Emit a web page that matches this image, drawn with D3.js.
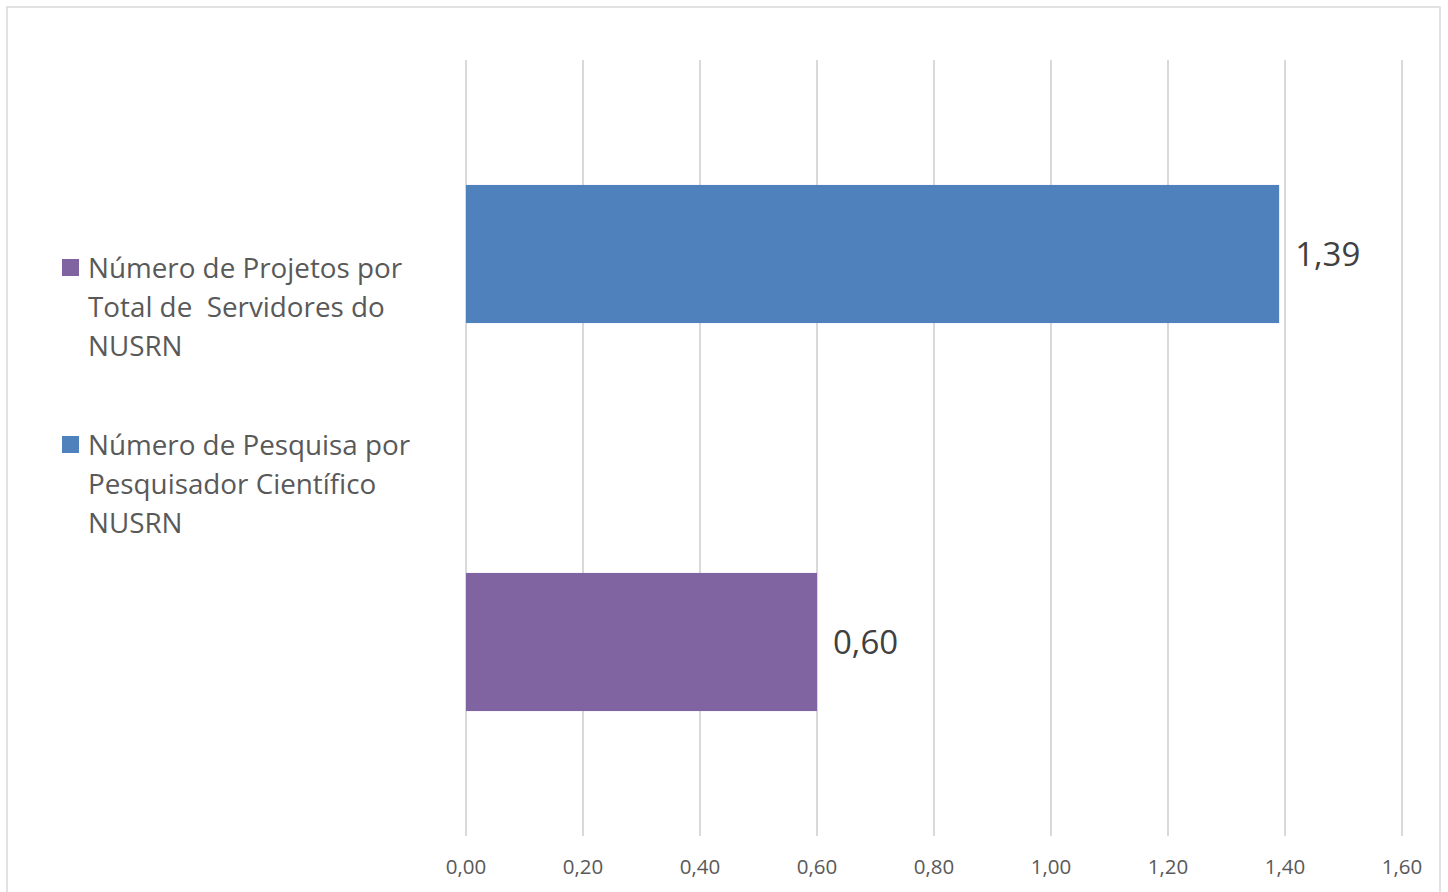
<!DOCTYPE html>
<html>
<head>
<meta charset="utf-8">
<script src="https://cdn.jsdelivr.net/npm/d3@7"></script>
<style>
  html, body { margin: 0; padding: 0; background: #fff; }
  svg { display: block; }
  text { font-family: "Open Sans", "Noto Sans", sans-serif; }
</style>
</head>
<body>
<svg id="chart" width="1448" height="892"></svg>
<script>
const categories = ["Número de Projetos por Total de  Servidores do NUSRN", "Número de Pesquisa por Pesquisador Científico NUSRN"];
const barOrder = ["Número de Pesquisa por Pesquisador Científico NUSRN", "Número de Projetos por Total de  Servidores do NUSRN"];
const values = [1.39, 0.60];
const tickValues = [0, 0.2, 0.4, 0.6, 0.8, 1.0, 1.2, 1.4, 1.6];
const legendLines = [
  ["Número de Projetos por", "Total de  Servidores do", "NUSRN"],
  ["Número de Pesquisa por", "Pesquisador Científico", "NUSRN"]
];
const colors = {"Número de Projetos por Total de  Servidores do NUSRN": "#8064a2", "Número de Pesquisa por Pesquisador Científico NUSRN": "#4f81bd"};

const svg = d3.select("#chart");

// outer border
svg.append("rect").attr("x", 7).attr("y", 7).attr("width", 1433).attr("height", 900)
  .attr("fill", "#fff").attr("stroke", "#d9d9d9").attr("stroke-width", 1.5);

const x = d3.scaleLinear().domain([0, 1.6]).range([466, 1402]);
const y = d3.scaleBand().domain(barOrder).range([60, 836]).paddingInner(0.644).paddingOuter(0.322);

// gridlines
svg.append("g").selectAll("line").data(tickValues).join("line")
  .attr("x1", d => x(d)).attr("x2", d => x(d))
  .attr("y1", 60).attr("y2", 836)
  .attr("stroke", "#d9d9d9").attr("stroke-width", 2);

// axis labels
const fmt = d => d3.format(".2f")(d).replace(".", ",");
svg.append("g").selectAll("text").data(tickValues).join("text")
  .attr("x", d => x(d)).attr("y", 874)
  .attr("text-anchor", "middle")
  .attr("font-size", 20.5)
  .attr("fill", "#595959")
  .text(fmt);

// data labels
svg.append("g").selectAll("rect").data(barOrder).join("rect")
  .attr("x", x(0))
  .attr("y", d => y(d))
  .attr("width", (d, i) => x(values[i]) - x(0))
  .attr("height", y.bandwidth())
  .attr("fill", d => colors[d]);

svg.append("g").selectAll("text").data(barOrder).join("text")
  .attr("x", (d, i) => x(values[i]) + 16)
  .attr("y", d => y(d) + y.bandwidth() / 2)
  .attr("dy", "0.36em")
  .attr("font-size", 33)
  .attr("fill", "#404040")
  .text((d, i) => fmt(values[i]));

// legend
const legendY = [268, 445];
const lg = svg.append("g").selectAll("g").data(categories).join("g")
  .attr("transform", (d, i) => `translate(0, ${legendY[i]})`);
lg.append("rect").attr("x", 62).attr("y", -9).attr("width", 17).attr("height", 17)
  .attr("fill", d => colors[d]);
lg.each(function(d, i) {
  const t = d3.select(this).append("text")
    .attr("x", 88).attr("y", 0)
    .attr("font-size", 27.8)
    .attr("fill", "#595959")
    .style("white-space", "pre");
  legendLines[i].forEach((line, j) => {
    t.append("tspan").attr("x", 88).attr("y", j * 39).attr("dy", "0.35em").text(line);
  });
});
</script>
</body>
</html>
